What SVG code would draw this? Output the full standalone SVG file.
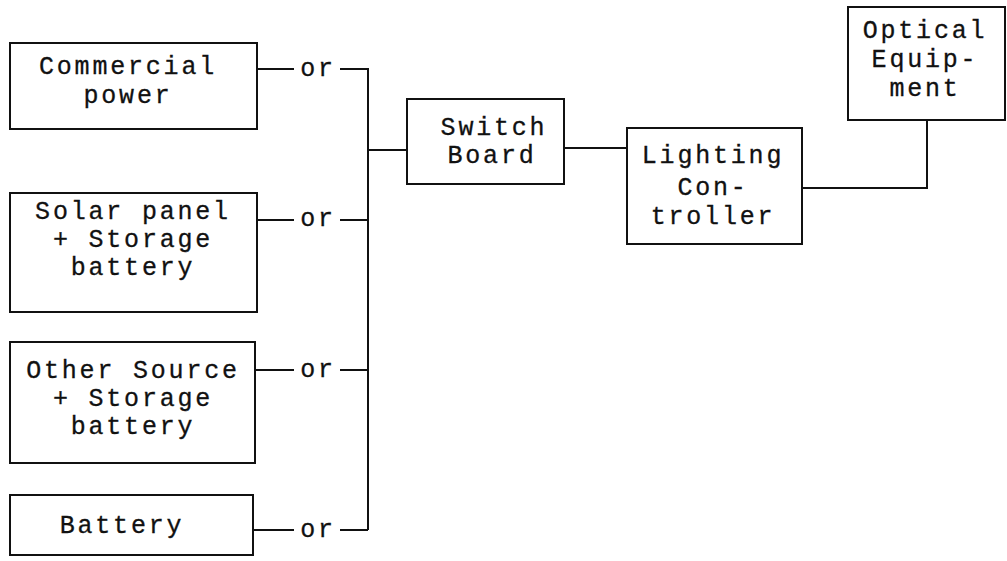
<svg xmlns="http://www.w3.org/2000/svg" width="1007" height="561" viewBox="0 0 1007 561">
<style>
.box{fill:#fff;stroke:#111;stroke-width:2}
.t{font-family:"Liberation Mono","DejaVu Sans Mono",monospace;font-size:25px;letter-spacing:2.8px;fill:#111;text-anchor:middle;stroke:#111;stroke-width:0.3}
.c{fill:none;stroke:#111;stroke-width:2}
</style>
<rect width="1007" height="561" fill="#fff"/>
<g id="connectors">
<path class="c" d="M257 69H294M340 69H368V530"/>
<path class="c" d="M257 220H294M340 220H368"/>
<path class="c" d="M255 370H294M340 370H368"/>
<path class="c" d="M253 530H294M340 530H368"/>
<path class="c" d="M368 150H407"/>
<path class="c" d="M564 148H627"/>
<path class="c" d="M802 188H927V120"/>
<text class="t" x="318" y="76">or</text>
<text class="t" x="318" y="226">or</text>
<text class="t" x="318" y="377">or</text>
<text class="t" x="318" y="537">or</text>
</g>
<g id="commercial">
<rect class="box" x="10" y="43" width="247" height="86"/>
<text class="t" x="128" y="74">Commercial</text>
<text class="t" x="128" y="103">power</text>
</g>
<g id="solar">
<rect class="box" x="10" y="193" width="247" height="119"/>
<text class="t" x="133" y="219">Solar panel</text>
<text class="t" x="133" y="247">+ Storage</text>
<text class="t" x="133" y="275">battery</text>
</g>
<g id="other">
<rect class="box" x="10" y="342" width="245" height="121"/>
<text class="t" x="133" y="378">Other Source</text>
<text class="t" x="133" y="406">+ Storage</text>
<text class="t" x="133" y="434">battery</text>
</g>
<g id="battery">
<rect class="box" x="10" y="495" width="243" height="60"/>
<text class="t" x="122" y="533">Battery</text>
</g>
<g id="switchboard">
<rect class="box" x="407" y="99" width="157" height="85"/>
<text class="t" x="494" y="135">Switch</text>
<text class="t" x="492" y="163">Board</text>
</g>
<g id="lighting">
<rect class="box" x="627" y="128" width="175" height="116"/>
<text class="t" x="713" y="163">Lighting</text>
<text class="t" x="713" y="195">Con-</text>
<text class="t" x="713" y="224">troller</text>
</g>
<g id="optical">
<rect class="box" x="848" y="7" width="157" height="113"/>
<text class="t" x="925" y="38">Optical</text>
<text class="t" x="925" y="67">Equip-</text>
<text class="t" x="925" y="96">ment</text>
</g>
</svg>
